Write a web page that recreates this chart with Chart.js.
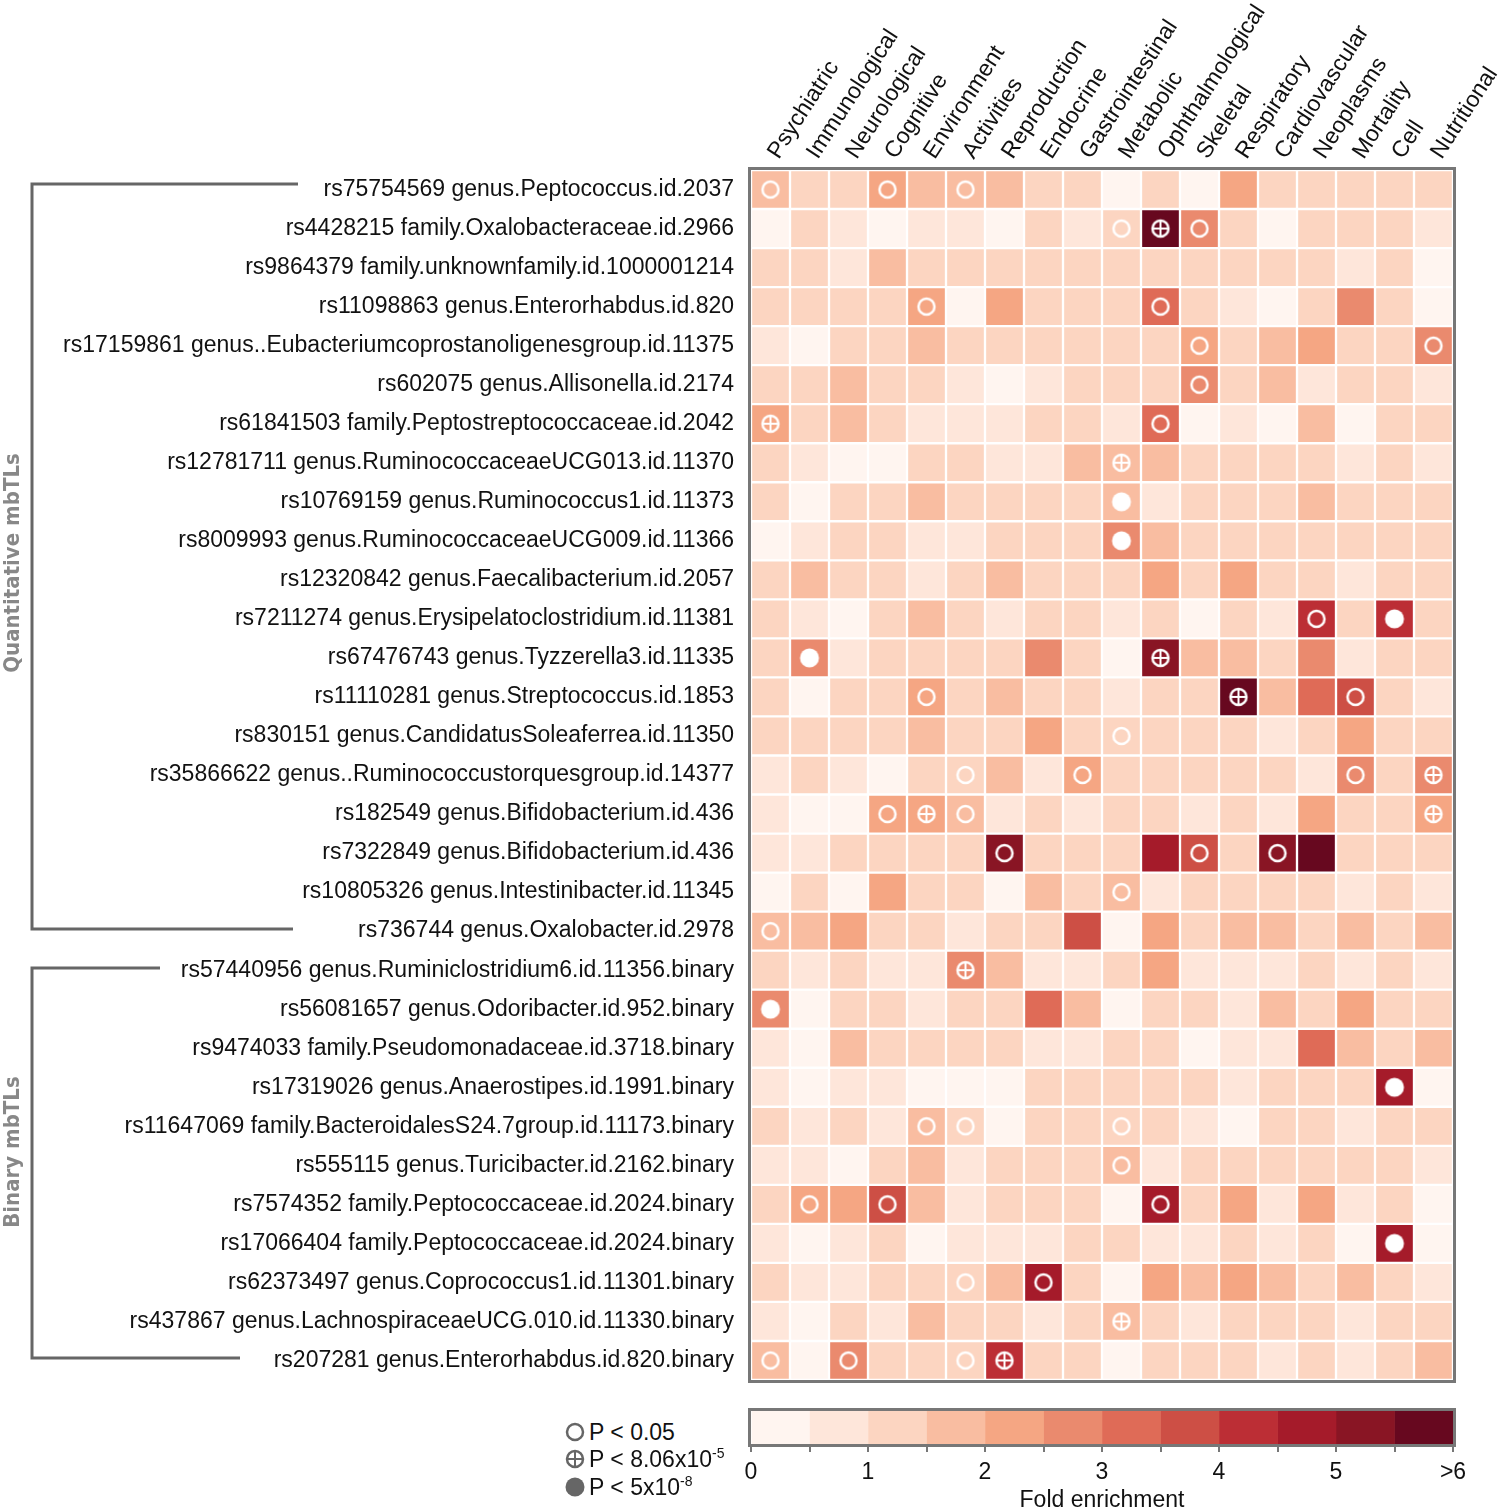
<!DOCTYPE html>
<html>
<head>
<meta charset="utf-8">
<script src="https://cdn.jsdelivr.net/npm/chart.js@4.4.1/dist/chart.umd.min.js"></script>
<style>
  body { margin: 0; width: 1500px; height: 1508px; background: #fff; position: relative; overflow: hidden;
         font-family: "Liberation Sans", Arial, sans-serif; }
  #heat { position: absolute; left: 0; top: 0; }
  #scale { position: absolute; left: 700px; top: 1392px; }
  #brackets { position: absolute; left: 0; top: 0; }
  .group { position: absolute; left: 11px; color: #888; white-space: nowrap;
           font: bold 22px "Liberation Sans Narrow", "DejaVu Sans Condensed", sans-serif;
           transform: translate(-50%, -50%) rotate(-90deg); }
  .leg { position: absolute; left: 565px; height: 26px; font-size: 23px; color: #111; white-space: nowrap; }
  .leg svg { position: absolute; left: 0; top: 3px; }
  .leg span { position: absolute; left: 24px; top: 0; line-height: 26px; }
  .leg sup { font-size: 14px; vertical-align: 0; position: relative; top: -9px; }
</style>
</head>
<body>
<canvas id="heat" width="1500" height="1392"></canvas>
<canvas id="scale" width="800" height="116"></canvas>

<svg id="brackets" width="320" height="1400">
  <g stroke="#666" stroke-width="3" fill="none">
    <polyline points="298,184 32,184 32,929 293,929"/>
    <polyline points="160,968 32,968 32,1358 240,1358"/>
  </g>
</svg>
<div class="group" style="top:563px">Quantitative mbTLs</div>
<div class="group" style="top:1152px">Binary mbTLs</div>

<div class="leg" style="top:1419px">
  <svg width="20" height="20"><circle cx="10" cy="10" r="8" fill="none" stroke="#666" stroke-width="2.5"/></svg>
  <span>P &lt; 0.05</span>
</div>
<div class="leg" style="top:1446px">
  <svg width="20" height="20"><g fill="none" stroke="#666"><circle cx="10" cy="10" r="8" stroke-width="2.5"/><path d="M10 2V18M2 10H18" stroke-width="2"/></g></svg>
  <span>P &lt; 8.06x10<sup>-5</sup></span>
</div>
<div class="leg" style="top:1474px">
  <svg width="20" height="20"><circle cx="10" cy="10" r="9.5" fill="#666"/></svg>
  <span>P &lt; 5x10<sup>-8</sup></span>
</div>

<script>
// Trait categories (columns)
var traits = ['Psychiatric', 'Immunological', 'Neurological', 'Cognitive', 'Environment', 'Activities',
    'Reproduction', 'Endocrine', 'Gastrointestinal', 'Metabolic', 'Ophthalmological', 'Skeletal',
    'Respiratory', 'Cardiovascular', 'Neoplasms', 'Mortality', 'Cell', 'Nutritional'];

// mbTL rows, top to bottom
var mbtlLabels = [
    'rs75754569 genus.Peptococcus.id.2037',
    'rs4428215 family.Oxalobacteraceae.id.2966',
    'rs9864379 family.unknownfamily.id.1000001214',
    'rs11098863 genus.Enterorhabdus.id.820',
    'rs17159861 genus..Eubacteriumcoprostanoligenesgroup.id.11375',
    'rs602075 genus.Allisonella.id.2174',
    'rs61841503 family.Peptostreptococcaceae.id.2042',
    'rs12781711 genus.RuminococcaceaeUCG013.id.11370',
    'rs10769159 genus.Ruminococcus1.id.11373',
    'rs8009993 genus.RuminococcaceaeUCG009.id.11366',
    'rs12320842 genus.Faecalibacterium.id.2057',
    'rs7211274 genus.Erysipelatoclostridium.id.11381',
    'rs67476743 genus.Tyzzerella3.id.11335',
    'rs11110281 genus.Streptococcus.id.1853',
    'rs830151 genus.CandidatusSoleaferrea.id.11350',
    'rs35866622 genus..Ruminococcustorquesgroup.id.14377',
    'rs182549 genus.Bifidobacterium.id.436',
    'rs7322849 genus.Bifidobacterium.id.436',
    'rs10805326 genus.Intestinibacter.id.11345',
    'rs736744 genus.Oxalobacter.id.2978',
    'rs57440956 genus.Ruminiclostridium6.id.11356.binary',
    'rs56081657 genus.Odoribacter.id.952.binary',
    'rs9474033 family.Pseudomonadaceae.id.3718.binary',
    'rs17319026 genus.Anaerostipes.id.1991.binary',
    'rs11647069 family.BacteroidalesS24.7group.id.11173.binary',
    'rs555115 genus.Turicibacter.id.2162.binary',
    'rs7574352 family.Peptococcaceae.id.2024.binary',
    'rs17066404 family.Peptococcaceae.id.2024.binary',
    'rs62373497 genus.Coprococcus1.id.11301.binary',
    'rs437867 genus.LachnospiraceaeUCG.010.id.11330.binary',
    'rs207281 genus.Enterorhabdus.id.820.binary'
];

// Fold enrichment, one row per mbTL, columns in trait order
var foldEnrichment = [
    [1.7, 1.2, 1.3, 2.2, 1.7, 1.6, 1.8, 1.2, 1.2, 0.3, 1.3, 0.2, 2.3, 1.2, 1.3, 1.2, 1.3, 1.2],
    [0.2, 1.2, 0.9, 0.2, 0.8, 0.8, 0.3, 1.3, 0.8, 1.2, 6.4, 2.7, 1.2, 0.3, 1.3, 1.2, 1.3, 0.8],
    [1.2, 1.3, 0.8, 1.7, 1.2, 1.3, 1.2, 1.3, 1.2, 1.2, 1.3, 1.2, 1.2, 1.3, 1.2, 0.9, 1.3, 0.3],
    [1.3, 1.2, 1.3, 1.2, 2.2, 0.2, 2.3, 1.2, 1.3, 1.2, 3.2, 1.2, 0.8, 0.3, 1.2, 2.8, 1.3, 0.3],
    [0.8, 0.3, 1.2, 1.3, 1.7, 1.2, 1.3, 1.2, 1.2, 1.3, 1.2, 2.2, 1.3, 1.7, 2.3, 1.2, 1.2, 2.8],
    [1.2, 1.3, 1.7, 1.2, 1.3, 0.8, 0.3, 0.8, 1.2, 1.3, 1.2, 2.7, 1.2, 1.8, 0.9, 1.2, 1.3, 0.8],
    [2.2, 1.2, 1.7, 1.3, 0.8, 0.8, 0.9, 1.2, 1.3, 0.8, 3.2, 0.3, 0.8, 0.2, 1.7, 0.3, 1.2, 1.3],
    [1.2, 0.8, 0.2, 0.3, 1.2, 1.3, 0.8, 0.9, 1.7, 1.6, 1.7, 1.2, 1.3, 1.2, 1.2, 0.8, 1.3, 0.8],
    [1.2, 0.3, 1.3, 1.2, 1.7, 1.2, 1.2, 1.3, 1.2, 1.7, 0.8, 1.2, 1.3, 1.2, 1.7, 1.2, 1.3, 1.2],
    [0.3, 0.8, 1.2, 1.3, 0.8, 0.9, 1.2, 1.3, 1.2, 2.8, 1.7, 1.2, 1.3, 1.2, 1.3, 1.2, 1.2, 1.3],
    [1.3, 1.7, 1.2, 1.3, 0.8, 1.2, 1.7, 1.2, 1.3, 1.2, 2.2, 1.3, 2.3, 1.2, 1.2, 0.8, 1.3, 1.2],
    [1.2, 0.8, 0.3, 1.2, 1.7, 1.3, 0.8, 1.2, 1.3, 0.8, 1.2, 0.3, 1.3, 0.9, 4.2, 1.2, 4.3, 1.2],
    [1.3, 2.8, 0.8, 1.2, 1.3, 1.2, 1.2, 2.7, 1.3, 0.3, 5.3, 1.7, 1.8, 1.2, 2.8, 0.8, 1.2, 1.3],
    [1.2, 0.3, 1.3, 1.2, 2.2, 1.2, 1.7, 1.3, 1.2, 0.8, 1.2, 1.3, 6.5, 1.7, 3.2, 3.7, 1.2, 0.8],
    [1.3, 1.2, 1.2, 1.3, 1.7, 1.2, 1.3, 2.2, 1.2, 1.3, 1.2, 1.3, 1.2, 0.8, 1.2, 2.3, 1.3, 1.2],
    [0.8, 1.2, 0.8, 0.3, 1.2, 1.3, 1.7, 0.8, 2.2, 1.2, 1.2, 1.3, 1.2, 1.3, 0.8, 2.8, 1.2, 2.7],
    [0.8, 0.3, 0.2, 2.2, 2.3, 1.7, 0.8, 1.2, 0.9, 1.2, 1.3, 0.8, 1.2, 0.8, 2.3, 1.2, 1.3, 2.2],
    [0.8, 0.9, 1.2, 1.3, 1.2, 1.3, 5.4, 1.2, 1.3, 1.2, 4.8, 3.7, 1.2, 5.3, 6.6, 1.2, 1.3, 1.2],
    [0.3, 1.2, 0.2, 2.2, 1.3, 1.2, 0.3, 1.7, 1.2, 1.7, 0.8, 1.2, 1.3, 1.2, 1.2, 0.8, 1.3, 0.8],
    [1.7, 1.8, 2.2, 1.2, 1.3, 0.8, 1.2, 1.3, 3.7, 0.3, 2.2, 1.2, 1.7, 1.8, 1.2, 1.7, 1.3, 1.7],
    [1.2, 0.8, 1.3, 0.8, 0.9, 2.8, 1.7, 0.8, 0.8, 1.2, 2.3, 0.8, 0.9, 0.8, 1.2, 0.8, 1.3, 0.8],
    [2.8, 0.3, 1.2, 1.3, 0.8, 1.2, 1.3, 3.2, 1.7, 0.2, 1.2, 1.3, 0.8, 1.7, 1.3, 2.3, 1.2, 1.3],
    [0.8, 0.3, 1.7, 1.2, 1.3, 1.2, 1.3, 0.8, 0.9, 1.2, 1.3, 0.3, 0.8, 0.9, 3.3, 1.7, 1.2, 1.8],
    [0.8, 0.3, 0.8, 0.9, 0.2, 0.3, 0.3, 1.2, 1.3, 1.2, 1.3, 1.2, 0.8, 1.2, 1.3, 1.2, 4.8, 0.3],
    [1.2, 0.8, 1.3, 0.8, 1.7, 1.3, 0.3, 1.2, 1.3, 1.2, 1.2, 0.8, 0.3, 1.3, 1.2, 0.8, 1.3, 1.2],
    [0.8, 0.9, 0.3, 1.2, 1.7, 0.8, 1.2, 1.3, 1.2, 1.7, 0.8, 1.3, 1.2, 1.2, 1.3, 1.2, 1.2, 0.8],
    [1.2, 2.2, 2.3, 3.7, 1.7, 0.8, 1.2, 1.3, 1.2, 0.3, 4.8, 1.2, 2.3, 0.8, 2.2, 0.9, 1.2, 0.3],
    [0.8, 0.3, 0.9, 1.2, 0.3, 0.8, 0.8, 0.9, 1.2, 1.3, 0.8, 0.9, 1.2, 0.8, 1.3, 0.3, 4.8, 0.2],
    [1.2, 0.8, 0.9, 1.2, 1.3, 1.3, 1.7, 4.8, 1.2, 0.3, 2.3, 1.7, 2.2, 1.7, 1.2, 1.7, 1.3, 0.8],
    [0.8, 0.3, 1.2, 0.8, 1.7, 1.2, 1.3, 0.8, 1.2, 1.7, 1.2, 0.9, 1.2, 1.3, 1.2, 0.8, 1.2, 1.3],
    [1.7, 0.3, 2.8, 1.2, 1.3, 1.2, 4.3, 1.2, 1.3, 0.3, 1.2, 1.3, 1.2, 0.8, 1.2, 0.8, 1.3, 1.7]
];

// Significant cells: [row index, trait]
var pNominal = [
    [0, 'Psychiatric'], [0, 'Cognitive'], [0, 'Activities'],
    [1, 'Metabolic'], [1, 'Skeletal'],
    [3, 'Environment'], [3, 'Ophthalmological'],
    [4, 'Skeletal'], [4, 'Nutritional'],
    [5, 'Skeletal'], [6, 'Ophthalmological'], [11, 'Neoplasms'],
    [13, 'Environment'], [13, 'Mortality'], [14, 'Metabolic'],
    [15, 'Activities'], [15, 'Gastrointestinal'], [15, 'Mortality'],
    [16, 'Cognitive'], [16, 'Activities'],
    [17, 'Reproduction'], [17, 'Skeletal'], [17, 'Cardiovascular'],
    [18, 'Metabolic'], [19, 'Psychiatric'],
    [24, 'Environment'], [24, 'Activities'], [24, 'Metabolic'],
    [25, 'Metabolic'],
    [26, 'Immunological'], [26, 'Cognitive'], [26, 'Ophthalmological'],
    [28, 'Activities'], [28, 'Endocrine'],
    [30, 'Psychiatric'], [30, 'Neurological'], [30, 'Activities']
];
var pSuggestive = [
    [1, 'Ophthalmological'], [6, 'Psychiatric'], [7, 'Metabolic'], [12, 'Ophthalmological'],
    [13, 'Respiratory'], [15, 'Nutritional'], [16, 'Environment'], [16, 'Nutritional'],
    [20, 'Activities'], [29, 'Metabolic'], [30, 'Reproduction']
];
var pGenomeWide = [
    [8, 'Metabolic'], [9, 'Metabolic'], [11, 'Cell'], [12, 'Immunological'],
    [21, 'Psychiatric'], [23, 'Cell'], [27, 'Cell']
];

// Colour scale: 12 bins of 0.5 fold enrichment, last bin is >6
var binStarts = [0, 0.5, 1, 1.5, 2, 2.5, 3, 3.5, 4, 4.5, 5, 5.5];
var binColors = ['#fff5f0', '#fee6da', '#fcd5c1', '#f9bda1', '#f5a683', '#ea8a6e',
    '#df6b57', '#cd4f45', '#bc2e35', '#a51b2a', '#891524', '#67081f'];

function colorFor(v) {
    var k = 0;
    for (var i = 0; i < binStarts.length; i++) {
        if (v >= binStarts[i]) k = i;
    }
    return binColors[k];
}

// Marker images for the three significance levels
function markerImage(kind) {
    var c = document.createElement('canvas');
    c.width = 24;
    c.height = 24;
    var g = c.getContext('2d');
    g.strokeStyle = '#fff';
    g.fillStyle = '#fff';
    g.lineWidth = 2.5;
    g.beginPath();
    g.arc(12, 12, kind === 'filled' ? 9.5 : 8, 0, Math.PI * 2);
    if (kind === 'filled') g.fill(); else g.stroke();
    if (kind === 'plus') {
        g.lineWidth = 2;
        g.beginPath();
        g.moveTo(12, 4); g.lineTo(12, 20);
        g.moveTo(4, 12); g.lineTo(20, 12);
        g.stroke();
    }
    return c;
}

function markerSet(list, kind) {
    return {
        type: 'scatter',
        data: list.map(function (p) { return { x: p[1], y: p[0] }; }),
        pointStyle: markerImage(kind),
        pointRadius: 9,
        order: 0
    };
}

var framePlugin = {
    id: 'frame',
    afterDatasetsDraw: function (chart) {
        var ctx = chart.ctx, a = chart.chartArea;
        ctx.save();
        ctx.strokeStyle = '#777';
        ctx.lineWidth = 3;
        ctx.strokeRect(a.left - 1.5, a.top - 1.5, a.right - a.left + 3, a.bottom - a.top + 3);
        ctx.restore();
    }
};

Chart.defaults.font.family = '"Liberation Sans", Arial, sans-serif';
Chart.defaults.color = '#111';

// Heatmap: one floating-bar dataset per mbTL row
var rowSets = mbtlLabels.map(function (label, r) {
    return {
        label: label,
        data: traits.map(function () { return [r - 0.5, r + 0.5]; }),
        backgroundColor: foldEnrichment[r].map(colorFor),
        borderColor: '#ffffff',
        borderWidth: 1.5,
        borderSkipped: false,
        barPercentage: 1,
        categoryPercentage: 1,
        grouped: false,
        order: 1
    };
});

new Chart(document.getElementById('heat'), {
    type: 'bar',
    data: {
        labels: traits,
        datasets: rowSets.concat([
            markerSet(pNominal, 'open'),
            markerSet(pSuggestive, 'plus'),
            markerSet(pGenomeWide, 'filled')
        ])
    },
    options: {
        responsive: false,
        animation: false,
        layout: { padding: { left: 0, right: 47, top: 0, bottom: 12 } },
        plugins: { legend: { display: false }, tooltip: { enabled: false } },
        scales: {
            x: {
                type: 'category',
                position: 'top',
                offset: true,
                grid: { display: false, drawTicks: false },
                border: { display: false },
                ticks: { minRotation: 57, maxRotation: 57, autoSkip: false, padding: 6, labelOffset: 26,
                         font: { size: 23 }, color: '#111' },
                afterFit: function (s) { s.height = 170; s.paddingLeft = 0; s.paddingRight = 0; }
            },
            y: {
                type: 'linear',
                reverse: true,
                min: -0.5,
                max: 30.5,
                grid: { display: false, drawTicks: false },
                border: { display: false },
                afterBuildTicks: function (s) {
                    s.ticks = mbtlLabels.map(function (_, i) { return { value: i }; });
                },
                ticks: {
                    autoSkip: false,
                    padding: 17,
                    font: { size: 23 },
                    color: '#111',
                    callback: function (v) { return mbtlLabels[v]; }
                },
                afterFit: function (s) { s.width = 751; s.paddingTop = 0; s.paddingBottom = 0; }
            }
        }
    },
    plugins: [framePlugin]
});

// Colour bar
var scaleSets = binStarts.map(function (b, i) {
    return {
        data: [[b, b + 0.5]],
        backgroundColor: binColors[i],
        borderWidth: 0,
        barPercentage: 1,
        categoryPercentage: 1,
        grouped: false
    };
});

new Chart(document.getElementById('scale'), {
    type: 'bar',
    data: { labels: [''], datasets: scaleSets },
    options: {
        indexAxis: 'y',
        responsive: false,
        animation: false,
        layout: { padding: { left: 51, right: 47, top: 19, bottom: 0 } },
        plugins: { legend: { display: false }, tooltip: { enabled: false } },
        scales: {
            x: {
                type: 'linear',
                min: 0,
                max: 6,
                grid: { drawOnChartArea: false, drawTicks: true, tickLength: 8, color: '#777', lineWidth: 2 },
                border: { display: false },
                ticks: {
                    stepSize: 0.5,
                    maxRotation: 0,
                    autoSkip: false,
                    padding: 7,
                    font: { size: 23 },
                    color: '#111',
                    callback: function (v) {
                        if (v % 1 !== 0) return '';
                        return v === 6 ? '>6' : String(v);
                    }
                },
                title: { display: true, text: 'Fold enrichment', font: { size: 23, lineHeight: 1 },
                         color: '#111', padding: { top: 0, bottom: -4 } },
                afterFit: function (s) { s.height = 64; s.paddingLeft = 0; s.paddingRight = 0; }
            },
            y: { display: false }
        }
    },
    plugins: [framePlugin]
});
</script>
</body>
</html>
